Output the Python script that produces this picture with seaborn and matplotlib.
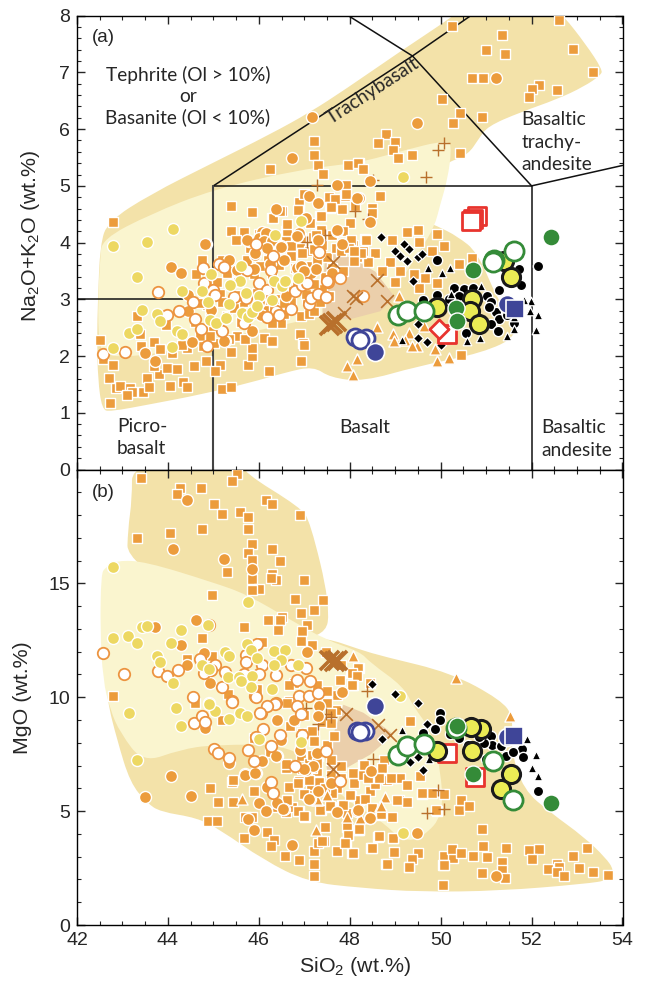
import matplotlib
matplotlib.use('Agg')
import matplotlib.pyplot as plt
from matplotlib.path import Path
from matplotlib.patches import PathPatch
import seaborn as sns

# outlines of the shaded fields, in data units
a_tan = [(42.46,3.0),(42.51,3.97),(42.68,4.37),(43.61,4.85),(45.0,5.41),(46.25,5.91),(47.13,6.3),(47.9,6.7),
         (49.11,7.37),(50.11,7.9),(50.44,8.1),(52.53,8.1),(52.7,8.0),(53.19,7.5),(53.56,7.05),(53.52,6.95),
         (53.15,6.75),(52.57,6.53),(51.76,6.3),(51.03,6.05),(50.83,5.82),(50.61,5.56),(50.22,5.43),(50.11,5.38),
         (49.55,4.41),(49.93,4.29),(50.37,4.11),(50.81,3.83),(51.25,3.0),(51.54,2.7),(51.69,2.35),(50.94,2.06),
         (49.49,1.82),(48.3,1.55),(47.57,1.62),(47.2,1.82),(46.58,1.71),(45.81,1.53),(44.71,1.32),(43.61,1.15),
         (42.73,1.02),(42.55,1.06),(42.46,1.59),(42.44,2.29)]
a_pale = [(42.55,4.06),(43.61,4.5),(45.0,4.94),(46.91,5.29),(48.23,5.41),(49.11,5.61),(50.17,5.82),(50.24,5.64),
          (50.15,5.11),(49.99,4.67),(49.86,4.27),(49.56,3.88),(49.0,3.17),(47.35,2.68),(46.85,2.61),(46.1,2.47),
          (45.37,2.35),(44.64,2.2),(43.89,2.06),(43.01,1.98),(42.62,2.03),(42.48,2.2),(42.46,3.0),(42.51,3.7)]
a_pink = [(47.46,3.83),(48.01,3.74),(48.56,3.49),(49.0,3.03),(48.67,2.79),(48.01,2.65),(47.4,2.65),(47.4,3.0)]
b_tan_top = [(43.21,20.36),(45.66,20.36),(45.66,19.88),(46.91,18.34),(47.13,17.72),(47.57,14.07),(47.46,12.53),
             (45.81,12.53),(43.1,15.96),(43.12,17.37),(43.21,18.69)]
b_tan_low = [(47.46,12.62),(48.23,12.09),(48.74,11.79),(50.22,11.08),(51.32,9.89),(51.6,9.15),(51.54,7.7),(51.82,5.94),
             (52.42,4.93),(53.15,3.87),(53.63,2.95),(53.81,2.42),(53.74,1.98),(53.15,1.8),(51.32,1.5),(49.56,1.45),
             (48.23,1.63),(47.07,1.89),(46.1,2.86),(45.15,4.18),(44.64,4.71),(43.83,4.97),(43.54,5.36),(43.17,6.24),
             (42.88,8.14),(42.66,9.89),(42.62,11.65),(46.91,12.53)]
b_pale = [(42.53,15.39),(42.62,15.7),(42.88,16.01),(43.5,15.96),(45.0,15.04),(45.74,14.51),(46.69,13.41),(47.46,12.53),
          (48.23,12.0),(48.45,11.52),(49.18,10.47),(49.4,9.59),(49.78,8.58),(50.0,6.82),(50.06,4.84),(49.62,3.87),
          (49.18,3.65),(48.67,4.62),(48.01,5.36),(47.46,6.38),(46.76,7.92),(45.0,7.92),(44.27,7.7),(43.45,7.12),
          (42.95,8.44),(42.73,9.45),(42.57,10.77),(42.51,12.97)]
b_pink = [(47.86,9.67),(48.3,9.32),(48.83,8.58),(48.96,8.36),(48.45,7.48),(47.86,6.82),(47.53,6.46),(47.46,7.34)]

# classification lines of panel a
tas_thin = [[(45,5),(52,5),(52,0)],[(45,5),(49.38,7.29),(50.66,8)],[(47.97,8),(49.38,7.29),(52,5),(54,5.36)],[(42,3),(45,3)]]
tas_thick = [[(45,0),(45,5)]]

# panel a values
a_squares = [(42.5,2.29),(42.58,1.94),(42.8,1.85),(42.7,1.61),(42.86,1.44),(42.95,1.48),(43.16,1.44),(43.21,1.36),(43.45,1.37),
    (43.1,1.31),(42.72,1.18),(43.53,1.62),(43.58,1.45),(43.8,1.69),(43.69,2.24),(43.82,2.13),(43.39,2.38),(43.41,2.18),(43.32,2.71),
    (43.95,2.55),(43.69,1.83),(43.98,1.79),(44.04,1.48),(44.2,1.77),(44.33,1.55),(44.42,1.45),(44.09,2.05),(44.42,2.14),(44.57,1.83),
    (44.83,1.91),(45.14,1.85),(45.03,1.73),(45.2,1.42),(45.39,1.45),(45.76,1.84),(46.22,1.73),(46.92,1.91),(45.86,2.0),(45.86,2.14),
    (45.39,2.08),(45.01,2.23),(44.61,3.45),(45.53,2.35),(46.11,2.32),(46.3,2.24),(46.9,2.38),(46.98,2.23),(46.3,2.58),(46.48,2.58),
    (46.92,2.7),(42.8,4.37),(46.25,5.3),(47.21,5.79),(47.21,5.54),(47.3,5.36),(47.41,5.21),(47.97,5.37),(48.2,5.4),(47.92,5.01),
    (45.39,4.65),(45.85,4.54),(45.39,4.21),(45.68,4.19),(46.88,4.72),(46.99,4.85),(47.54,4.8),(47.9,4.82),(47.57,4.61),(47.83,4.6),
    (48.01,4.35),(46.88,4.57),(46.29,4.44),(46.5,4.55),(46.62,4.29),(46.6,4.2),(47.34,4.47),(47.35,4.23),(47.13,4.35),(47.68,4.76),
    (50.25,7.82),(51.35,7.66),(51.0,7.4),(51.42,7.33),(52.6,7.93),(52.91,7.41),(53.36,7.0),(50.7,6.91),(50.93,6.91),(50.04,6.53),
    (50.43,6.29),(50.27,6.1),(50.9,6.22),(52.16,6.77),(52.0,6.7),(51.94,6.57),(52.56,6.69),(48.8,5.91),(48.63,5.75),(49.0,5.77),
    (48.96,5.63),(49.07,5.5),(49.37,5.55),(50.43,5.58),(48.19,5.41),(48.3,5.3),(48.66,4.83),(48.49,4.61),(48.49,4.53),(48.12,4.64),
    (49.5,4.22),(49.25,4.18),(49.92,4.15),(49.52,4.01),(48.93,4.05),(50.07,3.94),(50.4,3.63),(49.81,3.85),(48.33,4.06),(48.08,3.95),
    (48.29,3.85),(48.56,3.82),(48.89,3.66),(48.41,3.65),(48.71,3.5),(49.11,3.5),(49.41,3.44),(49.66,3.38),(49.92,3.29),(49.0,3.3),
    (49.52,3.2),(50.69,3.73),(50.44,2.01),(45.2,3.7),(45.5,4.05),(45.8,3.9),(46.0,4.15),(46.2,3.7),(46.4,3.95),(46.6,4.1),(46.7,3.8),
    (46.9,4.0),(47.1,3.85),(47.2,4.1),(47.4,3.95),(47.5,3.75),(47.7,3.9),(47.85,4.2),(48.0,4.0),(48.15,3.75),(46.3,3.45),(46.55,3.3),
    (46.8,3.55),(47.0,3.35),(47.25,3.6),(47.45,3.4),(47.6,3.55),(47.85,3.5),(46.1,3.1),(46.4,3.0),(46.75,3.15),(47.05,3.0),(47.3,3.2),
    (47.55,3.05),(47.1,2.75),(46.55,2.75),(46.0,2.75),(45.6,2.6),(45.3,2.7),(45.0,2.5),(44.6,2.6),(44.85,2.9),(45.15,3.1),(45.55,3.3),
    (44.9,3.4),(44.75,3.7),(45.9,3.45),(46.15,3.9),(46.45,3.6),(45.4,3.5),(45.0,3.25),(45.65,2.95),(46.25,2.9),(46.7,2.95),(44.3,2.2),(44.7,2.35),
    (46.31,4.44),(46.47,4.55),(46.61,4.2),(46.62,4.32),(46.86,4.57),(47.36,4.47),(47.58,4.63),(47.91,4.85),(48.02,4.05),(48.35,4.05),(47.36,4.23),
    (47.25,4.14),(47.61,4.14),(46.7,3.94),(46.92,4.08),(46.36,3.82),(46.7,3.76),(46.95,3.82),(47.14,3.58),(47.8,3.85),(48.24,3.82),(47.98,3.91),
    (48.09,3.67),(46.84,3.53),(47.28,3.7),(47.06,3.35),(45.52,2.35),(46.29,2.59),(46.29,2.27),(46.99,2.2),(47.21,2.8),(47.39,3.18),(47.21,3.27),
    (47.03,3.09),(48.09,3.85),(47.21,3.88),(46.11,2.82),(46.55,2.94),(46.03,3.59),(45.3,3.47),(45.08,3.3),(45.34,2.3),(45.7,2.3),(44.93,2.35),
    (44.71,2.94),(44.78,2.18),(44.93,2.82),(45.96,3.12),(45.75,3.7),(46.85,3.3),(47.35,2.95),(45.45,2.85),(45.2,2.95)]
a_circles = [(44.07,3.57),(44.28,3.47),(44.44,3.07),(44.44,2.8),(44.83,3.98),(43.5,2.05),(43.72,1.92),(44.53,2.25),(45.25,2.27),
    (45.86,2.44),(45.34,3.7),(44.94,2.82),(46.04,2.73),(45.78,4.02),(46.04,4.11),(46.48,3.94),(46.56,3.7),(46.85,4.11),(46.85,3.55),
    (47.14,3.47),(47.3,4.05),(47.72,4.2),(46.3,4.14),(45.53,3.52),(47.18,6.22),(46.73,5.5),(47.71,5.01),(47.1,4.82),(47.3,4.69),
    (46.37,4.6),(48.2,4.79),(47.71,4.23),(46.07,4.19),(46.88,4.17),(51.22,6.91),(49.49,6.11),(48.45,5.08),(48.17,4.79),(48.44,4.36),
    (44.82,3.98),(45.75,4.04),(46.0,4.08),(46.16,4.17),(46.11,4.03),(46.28,4.03),(46.47,3.91),(46.18,3.88),(45.92,3.79),(46.55,3.7),
    (46.83,4.11),(47.03,4.44),(47.84,3.98),(47.31,4.04),(47.32,3.82),(46.92,3.58),(47.25,3.53),(47.61,3.47),(45.92,3.81),(46.18,3.91),
    (46.48,3.93),(46.25,3.62),(46.99,3.5),(45.85,2.44),(45.23,2.27),(45.89,3.53),(46.0,2.95),(46.6,3.05),(45.55,3.05)]
a_open = [(42.57,2.04),(43.05,2.08),(43.78,3.13),(43.98,2.73),(44.24,2.8),(44.59,2.65),(44.72,2.48),(45.2,2.45),(44.85,2.17),
    (44.55,2.95),(44.77,3.55),(44.79,3.29),(44.99,3.17),(45.03,3.07),(45.12,3.62),(45.23,3.57),(45.75,3.51),(45.93,3.97),(46.32,3.77),
    (46.26,3.51),(46.0,3.29),(46.19,3.17),(45.45,3.04),(45.72,3.02),(46.37,2.8),(46.19,2.68),(46.44,2.72),(46.7,2.83),(46.79,3.15),
    (46.96,3.26),(47.11,2.91),(47.14,3.02),(47.31,3.09),(47.47,3.04),(47.53,3.31),(47.79,3.37),(47.33,3.83),(45.67,2.58),(48.29,3.05),
    (47.5,3.32),(47.06,3.29)]
a_yellow = [(42.8,3.94),(43.54,4.01),(43.33,3.39),(44.3,3.15),(43.44,2.81),(43.76,2.75),(43.83,2.61),(43.14,2.41),(43.32,2.48),
    (42.8,2.14),(44.08,2.16),(44.2,2.45),(44.3,2.39),(44.75,3.14),(44.89,2.95),(44.94,3.45),(44.92,2.64),(45.05,2.58),(45.27,2.67),
    (45.6,3.59),(45.58,3.32),(45.36,3.26),(45.72,3.11),(45.34,2.92),(45.64,2.76),(45.77,2.68),(45.86,2.77),(46.0,3.05),(45.95,2.89),
    (46.28,2.98),(46.33,3.32),(46.5,3.23),(46.57,3.32),(46.87,3.38),(46.35,4.14),(44.12,4.24),(49.18,5.16),(46.92,4.38)]
a_triangles = [(47.93,1.83),(48.08,1.67),(48.61,2.52),(48.17,1.94),(48.95,2.38),(48.98,2.26),(49.3,2.41),(49.22,2.29),(49.48,2.18),
    (49.36,2.18),(49.91,1.92),(50.19,1.97),(49.88,2.12),(49.63,2.53),(49.08,3.06)]
a_plus = [(47.28,5.01),(48.12,4.56),(47.46,4.14),(47.05,4.01),(50.07,5.75),(49.94,5.64),(49.68,5.16),(48.51,5.11),(48.41,4.41)]
a_cross = [(47.63,3.66),(48.13,3.02),(48.61,3.34),(48.83,2.97),(48.08,3.06),(47.87,2.76)]
a_bigx = [(47.62,2.58),(47.69,2.61),(47.55,2.55)]
a_diamonds = [(48.69,4.09),(49.0,3.86),(49.19,3.98),(49.31,3.89),(49.1,3.76),(49.25,3.68),(49.5,3.75),(49.6,3.8),(49.39,3.32),
    (49.5,2.56),(49.5,2.32),(49.7,2.25),(50.0,2.19)]
a_black = [(49.91,3.7),(52.14,3.58),(51.72,3.54),(51.76,3.25),(51.28,3.16),(50.29,3.2),(50.51,3.18),(50.72,3.2),(49.91,3.07),
    (49.61,2.99),(50.18,3.0),(50.4,3.05),(51.01,3.06),(51.11,2.96),(51.21,2.78),(51.06,2.87),(51.28,2.65),(51.11,2.56),(51.27,2.45),
    (50.55,2.41),(50.11,2.35),(51.61,2.59),(51.45,2.73)]
a_black_tri = [(49.72,3.55),(50.03,3.47),(50.2,3.56),(50.88,3.23),(50.22,3.09),(49.15,2.29),(50.57,2.27),(50.86,2.32),(51.45,2.36),
    (51.61,2.47),(52.09,2.46),(52.14,2.73),(51.97,2.79),(51.98,2.97),(51.83,2.99),(51.72,2.91),(51.61,2.68)]
a_red_sq = [(50.8,4.47),(50.72,4.42),(50.66,4.38),(50.14,2.38)]
a_red_dia = [(49.96,2.47)]
a_blue_open = [(48.12,2.33),(48.35,2.31),(48.23,2.29)]
a_blue = [(48.55,2.07),(51.47,2.91)]
a_blue_sq = [(51.63,2.83)]
a_big_yellow = [(51.39,3.68),(49.92,2.87),(50.69,3.0),(50.64,2.79),(50.84,2.56),(51.54,3.39)]
a_green_open = [(49.06,2.72),(49.25,2.79),(49.64,2.8),(51.17,3.7),(51.16,3.66),(51.61,3.85)]
a_green = [(52.42,4.09),(50.72,3.51),(50.33,2.85),(50.36,2.62)]

# panel b values
b_squares = [(43.41,19.64),(44.26,19.2),(44.2,18.91),(44.73,19.17),(45.52,19.79),(45.41,19.5),(45.02,18.5),(45.18,18.03),(45.58,18.15),
    (45.76,17.93),(46.15,18.65),(46.29,18.47),(46.9,18.0),(44.76,17.4),(45.76,17.4),(44.05,17.2),(43.32,17.0),(45.84,16.71),(45.76,16.34),
    (46.3,16.52),(45.84,16.02),(46.46,15.98),(45.3,15.49),(45.84,15.2),(46.29,15.39),(46.37,15.14),(46.26,15.25),(46.99,15.13),(46.0,14.76),
    (45.85,14.73),(44.97,14.48),(46.79,14.32),(47.42,14.29),(47.21,13.85),(46.93,13.68),(46.51,13.51),(46.21,13.37),(46.47,13.38),(47.05,13.19),
    (45.68,13.09),(46.42,12.97),(46.96,12.9),(44.75,12.6),(46.07,12.41),(46.92,12.46),(47.18,12.31),(47.47,11.98),(44.42,11.68),(44.98,11.83),
    (47.8,11.43),(48.02,11.07),(48.2,11.29),(47.79,10.77),(48.06,10.55),(42.8,10.04),(45.32,10.14),(45.96,10.38),(46.77,10.63),(47.29,10.55),
    (47.5,10.22),(47.73,10.11),(46.7,9.82),(44.92,6.0),(45.41,6.3),(45.1,5.39),(45.43,5.39),(45.89,5.9),(44.88,4.57),(45.07,4.57),(45.67,3.81),
    (45.85,4.76),(45.7,4.73),(46.18,4.1),(46.33,3.73),(46.26,3.48),(46.57,3.04),(46.88,2.85),(47.21,2.7),(47.21,2.16),(47.21,3.26),(47.31,3.61),
    (47.43,3.69),(47.73,3.25),(48.06,3.17),(47.91,3.66),(47.96,3.95),(47.93,4.32),(47.01,4.76),(46.88,5.0),(47.36,5.05),(46.59,4.98),(46.72,5.17),
    (46.62,5.49),(46.66,6.05),(46.88,6.33),(46.59,6.91),(46.92,7.4),(46.9,7.76),(47.21,8.13),(47.21,8.5),(46.95,8.42),(46.77,8.94),(47.14,6.08),
    (47.32,6.3),(47.29,6.74),(47.58,6.59),(47.73,6.0),(48.03,5.68),(47.84,5.27),(47.58,5.2),(48.09,6.22),(48.2,4.17),(45.19,9.01),(44.6,9.74),
    (45.89,8.2),(46.66,9.82),(47.69,9.45),(48.19,11.28),(48.05,11.06),(48.16,10.92),(48.07,10.55),(48.45,10.62),(49.32,8.94),(48.75,7.25),
    (48.3,7.03),(48.08,6.66),(48.29,6.59),(48.71,6.84),(48.93,6.44),(49.11,6.44),(48.82,6.37),(49.55,6.55),(49.26,6.15),(49.81,5.81),(50.07,5.76),
    (49.08,5.49),(49.25,5.39),(49.59,5.76),(49.91,5.02),(50.4,5.05),(50.45,5.49),(50.62,5.24),(48.93,4.76),(48.67,4.83),(48.19,4.17),(48.63,3.85),
    (48.95,3.83),(48.47,3.37),(48.97,3.19),(49.5,3.15),(49.37,2.88),(48.8,2.68),(49.3,2.53),(48.07,3.15),(50.07,3.04),(50.27,2.95),(50.05,2.63),
    (50.25,3.34),(50.45,3.15),(50.72,3.04),(50.94,3.48),(51.01,2.97),(50.9,4.22),(51.43,3.37),(51.36,2.78),(51.36,2.41),(50.9,2.29),(51.41,2.08),
    (50.05,1.75),(51.94,3.29),(52.16,3.32),(52.02,2.88),(52.57,2.7),(52.61,2.56),(52.36,2.46),(52.55,2.34),(52.72,2.16),(52.92,3.03),(53.05,2.49),
    (53.22,3.4),(53.36,2.31),(53.69,2.19),(47.4,8.9),(47.0,9.2),(47.5,7.9),(47.3,7.4),(47.1,7.1),(47.6,5.8),(47.95,4.9),(48.2,5.5),(48.45,5.9),
    (47.45,4.3),(47.8,7.0),(47.05,5.7),(46.4,5.2),(48.55,6.2),(47.5,10.26),(47.5,9.74),(48.05,10.55),(47.17,8.5),(47.21,8.06),(47.17,7.47),(47.28,7.1),
    (47.58,9.3),(47.58,8.86),(47.65,8.28),(46.69,8.72),(46.62,9.74),(46.66,10.55),(47.1,6.37),(48.31,7.03),(48.72,6.88),(48.64,6.44),(48.9,6.44),
    (47.17,6.88),(47.58,7.25),(45.44,6.37),(46.62,5.5),(46.87,6.23),(46.87,4.99),(47.0,4.8),(47.0,5.76),(47.35,5.06),(47.57,5.24),(47.85,5.28),
    (48.01,5.69),(48.34,5.53),(48.48,5.13),(48.68,4.88),(49.04,5.5),(49.6,5.79),(49.9,5.06),(48.2,4.21),(47.96,3.93),(47.9,3.62),(47.39,3.7),
    (48.48,3.37),(48.64,3.89),(48.96,3.81),(49.3,2.54),(50.07,2.64),(48.81,2.68),(46.95,6.85),(46.25,7.6),(46.6,7.05),(47.45,6.0),(47.8,6.45),(48.4,6.45)]
b_circles = [(44.42,18.65),(44.11,16.49),(45.24,16.08),(45.85,15.64),(44.62,13.37),(43.72,13.07),(44.29,12.31),(44.79,11.95),(44.43,11.43),
    (44.92,10.63),(47.05,11.99),(47.84,10.23),(44.07,6.55),(43.5,5.61),(44.51,5.68),(45.69,6.64),(45.93,6.69),(45.35,7.13),(46.07,7.18),(46.4,7.43),
    (46.39,8.98),(46.0,5.37),(46.16,5.02),(46.39,5.34),(46.55,5.08),(45.76,4.66),(45.9,4.17),(46.74,3.51),(47.12,5.52),(47.71,4.95),(47.31,5.9),
    (47.03,6.81),(47.19,6.96),(47.29,7.54),(46.18,6.08),(44.82,8.64),(46.48,8.13),(47.32,9.6),(51.22,2.16),(49.49,4.03),(48.45,4.69),(48.17,5.02),
    (46.4,9.01),(46.77,8.98),(47.3,9.16),(46.38,7.43),(46.08,7.18),(45.7,6.59),(45.92,6.66),(47.0,6.84),(46.91,7.69),(47.59,6.22),(48.46,6.78),
    (47.83,10.21),(47.11,5.53),(46.54,5.09),(48.18,5.06),(48.44,4.72)]
b_yellow = [(42.8,15.73),(45.76,14.19),(43.44,13.09),(43.53,13.12),(44.29,12.94),(44.88,13.16),(42.8,12.58),(43.12,12.68),(43.33,12.39),(44.07,12.39),
    (45.73,12.34),(45.82,12.06),(45.26,11.99),(45.34,11.8),(43.76,11.83),(43.83,11.53),(44.12,10.63),(44.75,11.4),(44.91,11.26),(45.95,11.73),
    (46.33,12.05),(46.57,12.06),(46.49,11.62),(46.33,11.43),(46.86,11.43),(45.32,10.89),(45.56,10.89),(45.85,10.95),(45.82,10.43),(46.28,10.38),
    (44.91,9.75),(45.6,10.7),(43.15,9.3),(44.18,9.52),(44.29,8.75),(45.04,9.38),(44.91,9.71),(43.32,7.25),(45.35,9.05),(45.58,9.33),(45.74,9.16),
    (46.0,8.17),(46.92,8.03),(49.17,4.03),(49.11,10.04)]
b_open = [(42.57,11.95),(43.04,11.02),(43.79,11.14),(43.98,10.92),(44.23,11.21),(44.71,11.7),(45.04,11.43),(44.79,11.07),(44.95,11.21),(45.25,11.11),
    (45.19,10.45),(44.55,9.99),(45.71,11.87),(45.95,12.36),(45.72,11.53),(46.06,11.4),(46.7,11.4),(47.03,11.29),(46.37,10.96),(46.0,11.02),(45.67,11.0),
    (46.83,10.77),(47.12,10.7),(45.41,9.82),(45.92,10.04),(46.37,9.75),(46.88,10.04),(47.1,10.04),(47.31,10.19),(44.9,13.19),(45.02,7.72),(45.11,7.54),
    (45.34,7.32),(45.76,7.69),(45.89,7.22),(44.58,8.86),(44.76,9.16),(44.81,8.91),(45.41,9.77),(46.04,9.3),(46.09,8.61),(45.93,8.25),(46.47,8.35),
    (46.26,7.88),(46.94,8.35),(46.83,9.6),(46.92,9.27),(46.35,9.7),(46.18,9.6),(47.47,7.65),(46.79,6.96),(47.79,6.33),(46.27,6.3),(46.31,5.81),
    (46.02,9.3),(45.94,10.01)]
b_triangles = [(45.62,5.52),(47.26,4.17),(47.49,5.71),(47.29,5.49),(47.95,4.76),(50.33,10.84),(51.52,9.19),(48.08,11.8),(48.78,5.64),(48.66,5.23),(48.22,4.7),
    (47.5,5.72),(47.28,5.53),(48.68,5.24)]
b_plus = [(47.03,9.52),(47.47,9.26),(47.59,9.13),(47.3,8.83),(49.69,4.91),(50.07,5.08),(49.94,5.93),(48.51,7.28),(48.38,10.26)]
b_cross = [(47.91,9.27),(47.63,6.84),(48.63,8.79),(48.88,8.35)]
b_bigx = [(47.65,11.58),(47.72,11.65),(47.54,11.65)]
b_diamonds = [(48.49,10.58),(49.0,10.14),(49.5,9.74),(48.71,8.16),(49.5,7.37),(49.33,7.15),(49.61,6.81),(49.7,8.83)]
b_black = [(49.99,9.3),(49.99,9.0),(49.88,8.62),(49.61,8.42),(51.11,8.28),(51.14,7.91),(51.8,7.72),(51.81,7.37),(52.14,5.89),(50.95,7.98),(51.43,7.4),
    (50.84,8.25),(51.32,7.84),(50.4,8.2),(50.6,7.9),(51.0,7.3),(51.6,7.6),(50.2,8.4)]
b_black_tri = [(49.15,8.57),(51.91,8.16),(52.09,7.47),(52.02,6.88),(52.14,6.56),(49.74,7.28)]
b_red_sq = [(50.13,7.54),(50.75,6.49)]
b_blue_open = [(48.16,8.5),(48.34,8.5),(48.23,8.47)]
b_blue = [(48.55,9.63),(51.47,8.25)]
b_blue_sq = [(51.61,8.28)]
b_big_yellow = [(49.92,7.66),(50.88,8.6),(50.66,8.69),(50.69,7.62),(51.54,6.62),(51.32,5.96)]
b_green_open = [(50.33,8.64),(49.06,7.47),(49.25,7.84),(49.64,7.96),(51.16,7.18),(51.6,5.49)]
b_green = [(50.36,8.75),(50.72,6.64),(52.42,5.34)]

x_ticks = [42, 44, 46, 48, 50, 52, 54]
a_ticks = [0, 1, 2, 3, 4, 5, 6, 7, 8]
b_ticks = [0, 5, 10, 15]

TAN = '#F3E2A9'
PALE = '#FAF5CF'
PINK = '#EBCFAB'
ORANGE = '#EC9C3C'
YELLOW = '#EDD862'
BROWN = '#B8702C'
BLUE = '#3F4598'
GREEN = '#348B38'
RED = '#E8342E'
LIME = '#EBEB55'

sns.set_style('ticks')
plt.rcParams['font.family'] = ['Liberation Sans', 'DejaVu Sans']
plt.rcParams['mathtext.default'] = 'regular'

W, H = 646, 985
fig = plt.figure(figsize=(W/100, H/100), dpi=100)
ax1 = fig.add_axes([77/W, 1-469.5/H, 545.5/W, 453.8/H])
ax2 = fig.add_axes([77/W, 1-925/H, 545.5/W, 455.5/H])


def pts(ax, xy, z, **kw):
    # one series through seaborn
    sns.scatterplot(x=[p[0] for p in xy], y=[p[1] for p in xy], ax=ax, legend=False, zorder=z, **kw)


def field(ax, outline, color):
    # outline vertices as bezier controls so the edge comes out rounded
    n = len(outline)
    mids = [((outline[i][0]+outline[(i+1) % n][0])/2, (outline[i][1]+outline[(i+1) % n][1])/2) for i in range(n)]
    verts = [mids[-1]]
    codes = [Path.MOVETO]
    for i in range(n):
        verts += [outline[i], mids[i]]
        codes += [Path.CURVE3, Path.CURVE3]
    ax.add_patch(PathPatch(Path(verts, codes), facecolor=color, lw=0, zorder=0.5))


def draw_series(ax, sq, circ, opn, yel, tri, plus, cross, bigx, dia, blk, btri, redsq, blopen, bl, blsq, bigy, gropen, gr):
    pts(ax, sq, 3, marker='s', s=60, color=ORANGE, edgecolor='white', linewidth=1.0)
    pts(ax, tri, 3.1, marker='^', s=65, color=ORANGE, edgecolor='white', linewidth=1.0)
    pts(ax, plus, 3.2, marker='+', s=75, color=BROWN, linewidth=1.0)
    pts(ax, circ, 3.3, marker='o', s=75, color=ORANGE, edgecolor='white', linewidth=1.0)
    pts(ax, opn, 3.4, marker='o', s=68, color='white', edgecolor='#EC9440', linewidth=1.3)
    pts(ax, yel, 3.5, marker='o', s=75, color=YELLOW, edgecolor='white', linewidth=1.0)
    pts(ax, cross, 3.6, marker='x', s=85, color=BROWN, linewidth=1.2)
    pts(ax, bigx, 3.7, marker='x', s=190, color=BROWN, linewidth=2.6)
    pts(ax, dia, 3.8, marker='D', s=26, color='black', edgecolor='white', linewidth=0.9)
    pts(ax, blk, 3.9, marker='o', s=55, color='black', edgecolor='white', linewidth=1.0)
    pts(ax, btri, 4, marker='^', s=38, color='black', edgecolor='white', linewidth=0.9)
    pts(ax, redsq, 4.1, marker='s', s=170, color='white', edgecolor=RED, linewidth=2.0)
    pts(ax, blopen, 4.3, marker='o', s=150, color='white', edgecolor=BLUE, linewidth=2.0)
    pts(ax, bl, 4.4, marker='o', s=170, color=BLUE, edgecolor='white', linewidth=1.2)
    pts(ax, blsq, 4.5, marker='s', s=170, color=BLUE, edgecolor='white', linewidth=1.2)
    pts(ax, bigy, 4.6, marker='o', s=170, color=LIME, edgecolor='#1A1A1A', linewidth=2.2)
    pts(ax, gropen, 4.7, marker='o', s=190, color='white', edgecolor=GREEN, linewidth=2.0)
    pts(ax, gr, 4.8, marker='o', s=150, color=GREEN, edgecolor='white', linewidth=1.0)


field(ax1, a_tan, TAN)
field(ax1, a_pale, PALE)
ax1.fill([p[0] for p in a_pink], [p[1] for p in a_pink], color=PINK, lw=0, zorder=0.6)
for seg in tas_thin:
    ax1.plot([p[0] for p in seg], [p[1] for p in seg], color='#111111', lw=1.1, zorder=0.8)
for seg in tas_thick:
    ax1.plot([p[0] for p in seg], [p[1] for p in seg], color='#444444', lw=1.5, zorder=0.8)
draw_series(ax1, a_squares, a_circles, a_open, a_yellow, a_triangles, a_plus, a_cross, a_bigx, a_diamonds, a_black,
            a_black_tri, a_red_sq, a_blue_open, a_blue, a_blue_sq, a_big_yellow, a_green_open, a_green)
pts(ax1, a_red_dia, 4.2, marker='D', s=95, color='white', edgecolor=RED, linewidth=2.0)

field(ax2, b_tan_top, TAN)
field(ax2, b_tan_low, TAN)
field(ax2, b_pale, PALE)
ax2.fill([p[0] for p in b_pink], [p[1] for p in b_pink], color=PINK, lw=0, zorder=0.6)
draw_series(ax2, b_squares, b_circles, b_open, b_yellow, b_triangles, b_plus, b_cross, b_bigx, b_diamonds, b_black,
            b_black_tri, b_red_sq, b_blue_open, b_blue, b_blue_sq, b_big_yellow, b_green_open, b_green)

ax1.set(xlim=(42, 54), ylim=(0, 8))
ax2.set(xlim=(42, 54), ylim=(0, 20))
ax1.set_xticks(x_ticks)
ax1.set_xticklabels([])
ax2.set_xticks(x_ticks)
ax1.set_yticks(a_ticks)
ax2.set_yticks(b_ticks)
ax1.set_xticks([x/2 for x in range(84, 109)], minor=True)
ax2.set_xticks([x/2 for x in range(84, 109)], minor=True)
ax1.set_yticks([y/5 for y in range(0, 41)], minor=True)
ax2.set_yticks(list(range(0, 21)), minor=True)
for ax in (ax1, ax2):
    ax.tick_params(which='major', direction='in', length=5.5, width=1, top=True, right=True, labelsize=14, pad=5)
    ax.tick_params(which='minor', direction='in', length=3, width=0.8, top=True, right=True)
    for sp in ax.spines.values():
        sp.set_linewidth(1.0)
        sp.set_visible(True)
        sp.set_color('black')

ax1.set_ylabel('Na$_2$O+K$_2$O (wt.%)', fontsize=15.4, labelpad=12, y=0.515)
ax2.set_ylabel('MgO (wt.%)', fontsize=15.4, labelpad=12)
ax2.set_xlabel('SiO$_2$ (wt.%)', fontsize=15.4, labelpad=4, x=0.51)

ANN = ['Lato', 'DejaVu Sans']
ASIZE = 13.8
ax1.text(42.33, 7.62, '(a)', fontsize=13.5, va='center')
ax2.text(42.33, 19.0, '(b)', fontsize=13.5, va='center')
ax1.text(44.44, 6.95, 'Tephrite (Ol > 10%)', family=ANN, fontsize=ASIZE, ha='center', va='center')
ax1.text(44.44, 6.58, 'or', family=ANN, fontsize=ASIZE, ha='center', va='center')
ax1.text(44.44, 6.21, 'Basanite (Ol < 10%)', family=ANN, fontsize=ASIZE, ha='center', va='center')
ax1.text(48.5, 6.68, 'Trachybasalt', family=ANN, fontsize=ASIZE, ha='center', va='center', rotation=33, rotation_mode='anchor')
ax1.text(51.78, 6.17, 'Basaltic', family=ANN, fontsize=ASIZE, va='center')
ax1.text(51.78, 5.77, 'trachy-', family=ANN, fontsize=ASIZE, va='center')
ax1.text(51.78, 5.38, 'andesite', family=ANN, fontsize=ASIZE, va='center')
ax1.text(42.88, 0.76, 'Picro-', family=ANN, fontsize=ASIZE, va='center')
ax1.text(42.88, 0.37, 'basalt', family=ANN, fontsize=ASIZE, va='center')
ax1.text(48.32, 0.74, 'Basalt', family=ANN, fontsize=ASIZE, ha='center', va='center')
ax1.text(52.22, 0.74, 'Basaltic', family=ANN, fontsize=ASIZE, va='center')
ax1.text(52.22, 0.34, 'andesite', family=ANN, fontsize=ASIZE, va='center')

fig.savefig('out.png', dpi=100)
